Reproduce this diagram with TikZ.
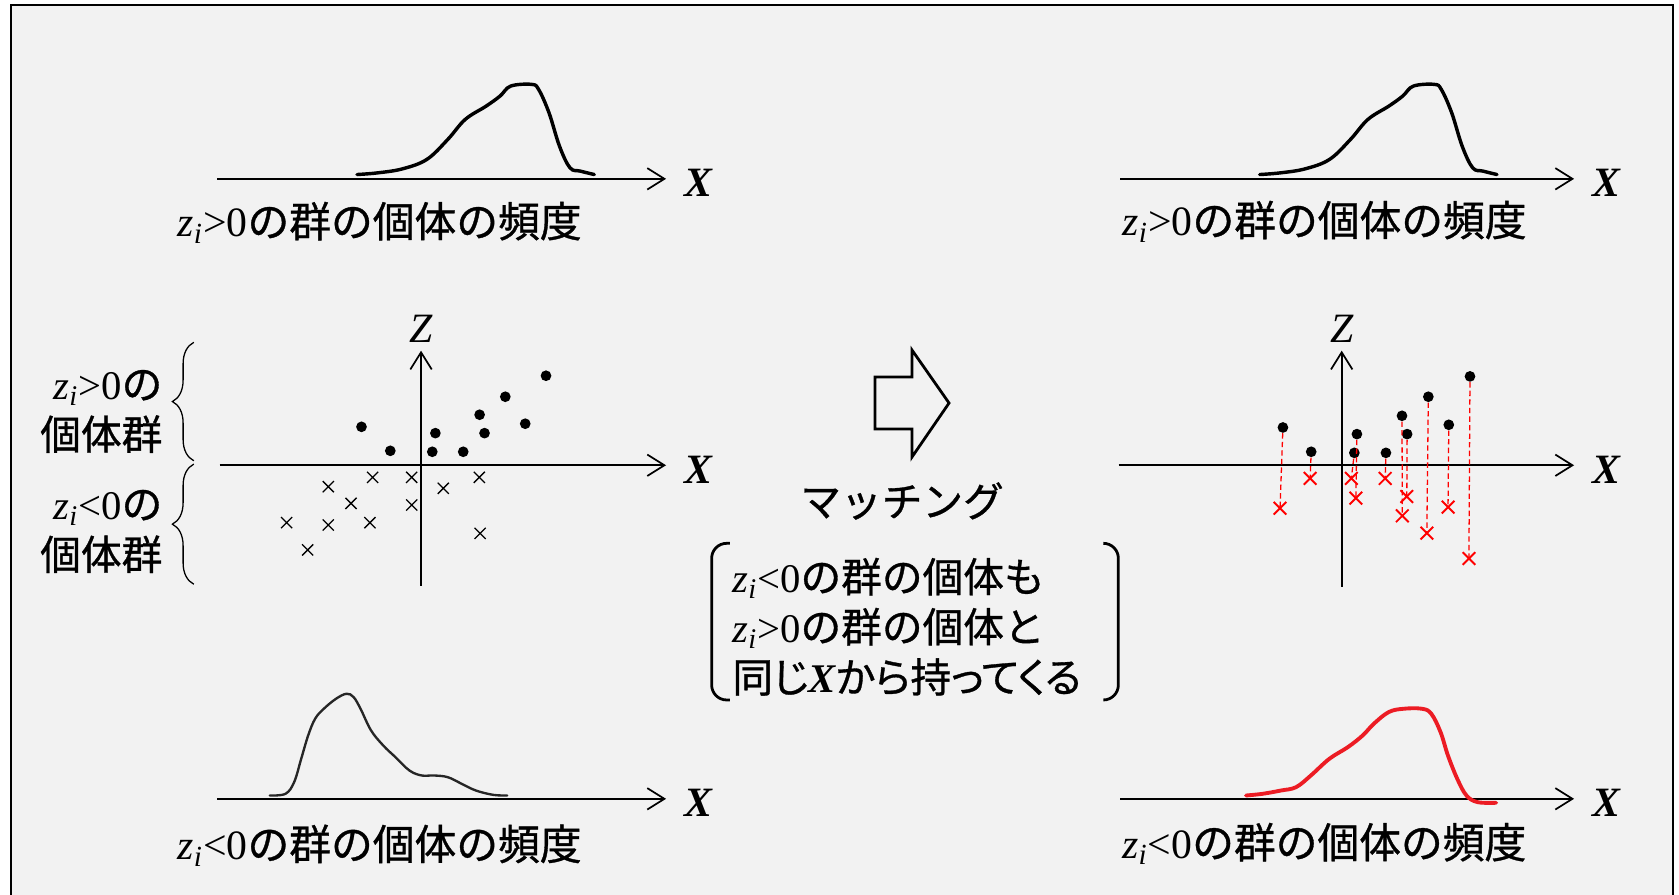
\documentclass[tikz,border=0pt]{standalone}
\usepackage{fontspec}
\setmainfont{Liberation Serif}
\newfontfamily\jpfont[FakeBold=0.8]{Noto Sans CJK JP}
\newfontfamily\jpprop[FakeBold=0.8, RawFeature=+palt]{Noto Sans CJK JP}
\usepackage{xcolor}
\definecolor{bgcol}{RGB}{242, 242, 242}
\definecolor{matchcol}{RGB}{255, 0, 0}
\definecolor{histred}{RGB}{236, 28, 36}
\usepackage{tikz}
\usetikzlibrary{positioning, arrows.meta, shapes.misc, decorations.pathreplacing}
\newcommand{\zi}{\textit{z}\textsubscript{\textit{i}}}
\tikzset{
  poshist/.pic={
    \draw[hist] plot[smooth, tension=0.6] coordinates {(333.4,163.0) (353,161.4)
      (375.8,157.7) (398.6,148.9) (418.2,130.2) (434.5,111.5) (454,99.1) (467,89.7)
      (476.9,80.4) (496.4,78.8) (503,83.5) (512.7,105.3) (522.5,136.5) (532.3,156.7)
      (542,159.8) (555,163.0)};
  }
}

\begin{document}
\begin{tikzpicture}[x=0.5pt, y=-0.5pt,
  axis/.style={line width=0.8pt, -{Straight Barb[length=8pt, width=10pt]}},
  xlab/.style={font=\fontsize{19.5}{20}\selectfont\bfseries\itshape, inner sep=0, yshift=-2pt},
  zlab/.style={font=\fontsize{19.5}{20}\selectfont\itshape, inner sep=0},
  freq/.style={font=\fontsize{19.5}{24}\selectfont, inner sep=0, anchor=west},
  grp/.style={font=\fontsize{19}{24}\selectfont, inner sep=0, anchor=east},
  note/.style={font=\fontsize{19}{24}\selectfont, inner sep=0, anchor=west},
  dot/.style={circle, fill=black, inner sep=0, minimum size=5pt},
  xmark/.style={cross out, draw=black, inner sep=0, minimum size=4.6pt, line width=0.6pt},
  rmark/.style={cross out, draw=matchcol, inner sep=0, minimum size=5pt, line width=0.9pt},
  pair/.style={draw=matchcol, dash pattern=on 2.5pt off 1.5pt, line width=0.6pt},
  hist/.style={line width=1.6pt, line cap=round, line join=round},
  paren/.style={line width=1.3pt, rounded corners=7pt},
  grpbrace/.style={decorate, decoration={brace, amplitude=10pt}, line width=0.6pt}
]
  \useasboundingbox (0,0) rectangle (1568,835);
  \fill[white] (0,0) rectangle (1568,835);
  \draw[fill=bgcol, line width=1pt] (10.3,4.7) rectangle (1562.4,850);

  % z>0 frequency, left
  \coordinate (pla) at (203,167);
  \coordinate (plb) at (622,167);
  \draw[axis] (pla) -- (plb);
  \node[xlab, right=8.5pt of plb] (plx) {X};
  \pic at (0,0) {poshist};
  \node[freq] (pllab) at (165.5,208) {\zi>0\jpfont の群の個体の頻度};

  % scatter, left
  \coordinate (lxa) at (205,434.5);
  \coordinate (lxb) at (622,434.5);
  \coordinate (lza) at (393.2,547);
  \coordinate (lzb) at (393.2,327.5);
  \draw[axis] (lxa) -- (lxb);
  \draw[axis] (lza) -- (lzb);
  \node[xlab, right=8.5pt of lxb] (lx) {X};
  \node[zlab, above=3.5pt of lzb] (lz) {Z};
  \foreach \px/\py [count=\i] in {337.6/398.6, 364.5/421.0, 406.6/404.5, 403.7/421.9,
      432.6/421.9, 447.9/387.3, 452.5/404.5, 471.9/370.5, 490.5/395.7, 509.9/350.9}
    \node[dot] (dl\i) at (\px,\py) {};
  \foreach \px/\py [count=\i] in {306.6/454.5, 348.0/445.8, 384.5/445.8, 414.0/456.0,
      447.6/445.8, 327.8/470.1, 384.5/471.6, 267.7/488.1, 306.6/490.3, 345.5/488.1,
      287.3/513.6, 448.3/498.1}
    \node[xmark] (cl\i) at (\px,\py) {};

  % group braces
  \coordinate (bpa) at (181,430.3);
  \coordinate (bpb) at (181,319.7);
  \coordinate (bna) at (181,545.6);
  \coordinate (bnb) at (181,433.4);
  \draw[grpbrace] (bpa) -- (bpb);
  \draw[grpbrace] (bna) -- (bnb);
  \node[grp] (gp1) at (152,362) {\zi>0\jpfont の};
  \node[grp] (gp2) at (152,405.4) {\jpfont 個体群};
  \node[grp] (gn1) at (152,474) {\zi<0\jpfont の};
  \node[grp] (gn2) at (152,517.6) {\jpfont 個体群};

  % z<0 frequency, left
  \coordinate (nla) at (203,746);
  \coordinate (nlb) at (622,746);
  \draw[axis] (nla) -- (nlb);
  \node[xlab, right=8.5pt of nlb] (nlx) {X};
  \draw[line width=1.1pt, black!85, line cap=round] plot[smooth, tension=0.6] coordinates {
    (251.9,742.9) (266.6,741.3) (274.7,730.4) (281.3,708.6) (287.8,686.8) (294.3,671.2)
    (302.4,661.9) (313.9,652.5) (323.6,647.9) (330.2,651.0) (336.7,661.9) (346.5,682.1)
    (357.9,696.2) (369.3,707.1) (382.3,719.5) (393.7,724.2) (405.2,724.2) (418.2,725.8)
    (431.2,732.0) (444.3,738.2) (460.6,742.3) (473.6,742.9)};
  \node[freq] (nllab) at (165.5,789.6) {\zi<0\jpfont の群の個体の頻度};

  % matching arrow and note
  \draw[line width=1.3pt, fill=bgcol, line join=miter] (817.1,352.1) -- (851.7,352.1)
    -- (851.7,326.9) -- (886.3,376.4) -- (851.7,426.8) -- (851.7,400.6)
    -- (817.1,400.6) -- cycle;
  \node[font=\fontsize{19}{24}\selectfont\jpfont, inner sep=0] (matching) at (842.4,467.9) {マッチング};
  \draw[paren] (681.7,507.4) -- (664.6,507.4) -- (664.6,653.7) -- (681.7,653.7);
  \draw[paren] (1030.4,507.4) -- (1044.4,507.4) -- (1044.4,653.7) -- (1030.4,653.7);
  \node[note] (note1) at (683.6,539.8) {\zi<0\jpfont の群の個体も};
  \node[note] (note2) at (683.6,586.5) {\zi>0\jpfont の群の個体と};
  \node[note] (note3) at (683.6,632.2) {\jpprop 同じ{\rmfamily\bfseries\itshape X}から持ってくる};

  % z>0 frequency, right
  \coordinate (pra) at (1046,167);
  \coordinate (prb) at (1470,167);
  \draw[axis] (pra) -- (prb);
  \node[xlab, right=8.5pt of prb] (prx) {X};
  \pic at (843,0) {poshist};
  \node[freq] (prlab) at (1048,207) {\zi>0\jpfont の群の個体の頻度};

  % matched scatter, right
  \coordinate (rxa) at (1044.7,434.5);
  \coordinate (rxb) at (1470,434.5);
  \coordinate (rza) at (1253,548);
  \coordinate (rzb) at (1253,327.5);
  \draw[axis] (rxa) -- (rxb);
  \draw[axis] (rza) -- (rzb);
  \node[xlab, right=8.5pt of rxb] (rx) {X};
  \node[zlab, above=3.5pt of rzb] (rz) {Z};
  \foreach \px/\py [count=\i] in {1198.1/399.2, 1224.5/421.9, 1267.2/405.4, 1264.8/422.9,
      1294.3/422.9, 1309.3/388.3, 1314.1/405.4, 1333.9/370.5, 1353.0/396.7, 1372.8/351.5}
    \node[dot] (dr\i) at (\px,\py) {};
  \foreach \px/\py [count=\i] in {1195.4/474.6, 1223.5/446.8, 1266.2/465.2, 1262.0/446.8,
      1293.6/446.8, 1309.6/481.7, 1313.8/463.7, 1332.5/497.9, 1352.3/473.6, 1371.8/521.6}
    \node[rmark] (cr\i) at (\px,\py) {};
  \foreach \i in {1,...,10}
    \draw[pair] (dr\i) -- (cr\i.center);

  % z<0 frequency after matching, right
  \coordinate (nra) at (1046,746);
  \coordinate (nrb) at (1470,746);
  \draw[axis] (nra) -- (nrb);
  \node[xlab, right=8.5pt of nrb] (nrx) {X};
  \draw[hist, histred, line width=1.8pt] plot[smooth, tension=0.6] coordinates {
    (1163.6,742.9) (1179.2,741.3) (1196.5,738.2) (1210.4,735.1) (1224.2,724.2)
    (1241.5,708.6) (1258.8,697.7) (1272.6,686.8) (1283.0,675.9) (1296.9,665.0)
    (1310.7,661.9) (1328.0,661.9) (1336.7,666.6) (1345.3,683.7) (1352.2,705.5)
    (1360.9,727.3) (1369.5,742.9) (1379.9,749.1) (1397.2,749.7)};
  \node[freq] (nrlab) at (1047.7,788) {\zi<0\jpfont の群の個体の頻度};
\end{tikzpicture}
\end{document}
